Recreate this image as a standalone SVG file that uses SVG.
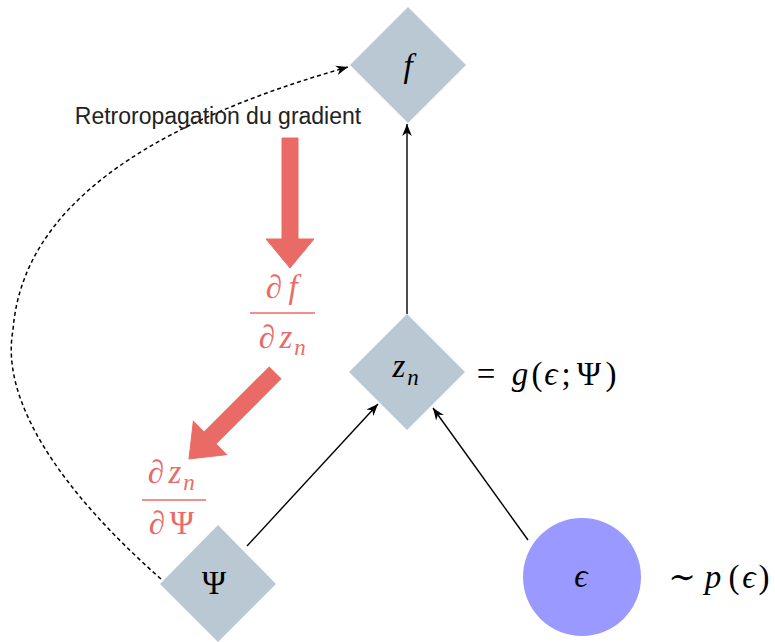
<svg xmlns="http://www.w3.org/2000/svg" width="775" height="642" viewBox="0 0 775 642">
<defs>
<style>
.node{fill:#BAC8D3;}
.eps{fill:#9999FF;}
.edge{fill:none;stroke:#000;stroke-width:1.4;}
.dash{fill:none;stroke:#000;stroke-width:1.5;stroke-dasharray:4 3;}
.red{fill:#EA6B66;stroke:#EA6B66;stroke-width:1;}
.m{font-family:"Liberation Serif","DejaVu Serif",serif;font-size:33px;fill:#000;}
.mr{font-family:"Liberation Serif","DejaVu Serif",serif;font-size:33px;fill:#EA6B66;}
.it{font-style:italic;}
.sub{font-size:23px;font-style:italic;}
.lbl{font-family:"Liberation Sans",Arial,sans-serif;font-size:23px;fill:#222;}
.fl{stroke:#EA6B66;stroke-width:1.6;}
</style>
<marker id="arr" viewBox="0 0 10 10" refX="10" refY="5" markerWidth="12" markerHeight="12" markerUnits="userSpaceOnUse" orient="auto">
<path d="M0,1 L10,5 L0,9 L3,5 z" fill="#000"/>
</marker>
</defs>
<g id="connectors">
<path class="edge" d="M407,314 L407,124" marker-end="url(#arr)"/>
<path class="edge" d="M247,546 L378,404" marker-end="url(#arr)"/>
<path class="edge" d="M528,540 L433,408" marker-end="url(#arr)"/>
<path class="dash" d="M161,579 C60,490 0,400 13,330 C20,240 90,140 348,67" marker-end="url(#arr)"/>
</g>
<g id="node-f">
<polygon class="node" points="408,7 466,65 408,123 350,65"/>
<text class="m it" x="408" y="77" text-anchor="middle" font-size="35">f</text>
</g>
<g id="node-zn">
<polygon class="node" points="407,314 465,372 407,430 349,372"/>
<text class="m" text-anchor="middle"><tspan class="it" x="399" y="377">z</tspan><tspan class="sub" x="413" y="385">n</tspan></text>
</g>
<g id="node-psi">
<polygon class="node" points="218,525 276,584 218,642 160,584"/>
<text class="m" x="214" y="594" text-anchor="middle">Ψ</text>
</g>
<g id="node-eps">
<circle class="eps" cx="582" cy="577" r="59"/>
<text class="m it" x="581" y="587" text-anchor="middle">ϵ</text>
</g>
<g id="label-g">
<text class="m" text-anchor="middle"><tspan x="486" y="385">=</tspan><tspan class="it" x="520" y="385">g</tspan><tspan x="537" y="385">(</tspan><tspan class="it" x="551" y="385">ϵ</tspan><tspan x="566" y="385">;</tspan><tspan x="589" y="385">Ψ</tspan><tspan x="611" y="385">)</tspan></text>
</g>
<g id="label-p">
<text class="m" text-anchor="middle"><tspan x="682" y="588">∼</tspan><tspan class="it" x="713" y="588">p</tspan><tspan x="734" y="588">(</tspan><tspan class="it" x="749" y="588">ϵ</tspan><tspan x="764" y="588">)</tspan></text>
</g>
<g id="label-retro">
<text class="lbl" x="218" y="124" text-anchor="middle">Retroropagation du gradient</text>
</g>
<g id="red-arrow-1">
<polygon class="red" points="282,138 298,138 298,239 314,239 290,268 266,239 282,239"/>
</g>
<g id="red-arrow-2">
<polygon class="red" transform="translate(275,373) rotate(45)" points="-8.3,0 8.3,0 8.3,92 23.5,92 0,121.6 -23.5,92 -8.3,92"/>
</g>
<g id="frac-df-dzn">
<text class="mr" text-anchor="middle"><tspan x="274" y="298">∂</tspan><tspan class="it" x="293" y="298">f</tspan></text>
<line class="fl" x1="250" y1="313" x2="315" y2="313"/>
<text class="mr" text-anchor="middle"><tspan x="267" y="348">∂</tspan><tspan class="it" x="286" y="348">z</tspan><tspan class="sub" x="300" y="355">n</tspan></text>
</g>
<g id="frac-dzn-dpsi">
<text class="mr" text-anchor="middle"><tspan x="156" y="483">∂</tspan><tspan class="it" x="175" y="483">z</tspan><tspan class="sub" x="189" y="490">n</tspan></text>
<line class="fl" x1="142" y1="500" x2="206" y2="500"/>
<text class="mr" text-anchor="middle"><tspan x="157" y="534">∂</tspan><tspan x="182" y="534">Ψ</tspan></text>
</g>
</svg>
